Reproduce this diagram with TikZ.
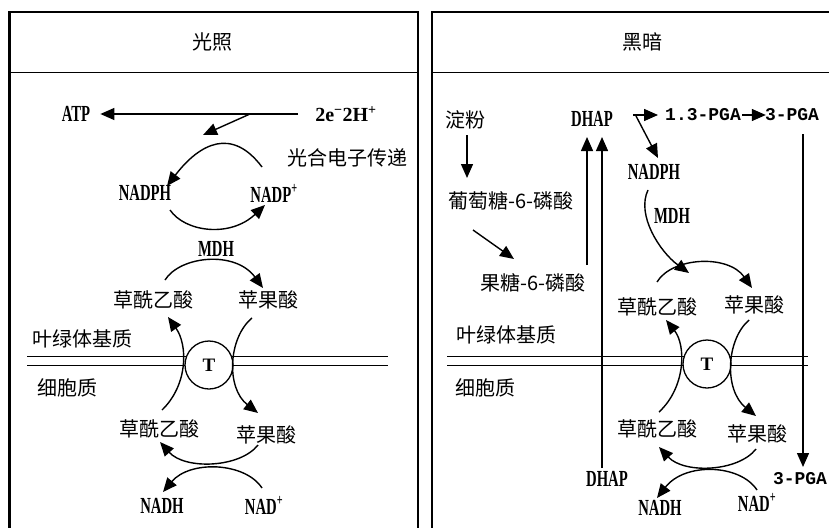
\documentclass[tikz,border=0pt]{standalone}
\usepackage{fontspec}
\setmainfont{Liberation Serif}
\newfontfamily\cjk{Noto Sans CJK SC}
\newfontfamily\lat[FakeStretch=0.64]{Liberation Serif}
\newfontfamily\monof{Liberation Mono}
\usetikzlibrary{arrows.meta}
\begin{document}
\begin{tikzpicture}[x=1pt,y=-1pt,
  arr/.style={-{Triangle[length=14pt,width=12pt]}, line width=1.4pt},
  cn/.style={font=\cjk\fontsize{20}{20}\selectfont, inner sep=0pt},
  ln/.style={font=\lat\bfseries\fontsize{23}{23}\selectfont, inner sep=0pt},
  sn/.style={font=\bfseries\fontsize{20}{20}\selectfont, inner sep=0pt},
  mn/.style={font=\monof\bfseries\fontsize{18}{18}\selectfont, inner sep=0pt},
  tcirc/.style={circle, draw, fill=white, line width=1.3pt, minimum size=48pt, inner sep=0pt, font=\bfseries\fontsize{19}{19}\selectfont},
  frame/.style={line width=2.5pt},
  hline/.style={line width=1.5pt},
  memb/.style={line width=1pt}
]
\useasboundingbox (0,0) rectangle (829,527);
% frames
\draw[frame] (9.5,530) -- (9.5,12) -- (418,12) -- (418,530);
\draw[frame] (432,530) -- (432,12) -- (835,12);
\draw[hline] (9.5,72.5) -- (418,72.5);
\draw[hline] (432,72.5) -- (829,72.5);

% ================= LEFT PANEL =================
\node[cn] (hd1) at (212,42) {光照};
\node[ln] (atp) at (76,114) {ATP};
\node[sn] (e2h) at (346,114) {2e\textsuperscript{−}2H\textsuperscript{+}};
\node[cn,anchor=west] (etr) at (287,158) {光合电子传递};
\node[ln] (nadph1) at (145,193) {NADPH};
\node[ln] (nadp1) at (274,193) {NADP\textsuperscript{+}};
\node[ln] (mdh1) at (216,249) {MDH};
\node[cn] (oaa1) at (153,300) {草酰乙酸};
\node[cn] (mal1) at (268,300) {苹果酸};
\node[cn] (str1) at (82,339) {叶绿体基质};
\node[cn] (cyt1) at (67,388) {细胞质};
\node[cn] (oaa1b) at (159,429) {草酰乙酸};
\node[cn] (mal1b) at (266,435) {苹果酸};
\node[ln] (nadh1) at (162,506) {NADH};
\node[ln] (nad1) at (264,505) {NAD\textsuperscript{+}};

\coordinate (m1a) at (27,356); \coordinate (m1b) at (388,356);
\coordinate (m1c) at (27,365); \coordinate (m1d) at (388,365);
\draw[memb] (m1a) -- (m1b);
\draw[memb] (m1c) -- (m1d);
\node[tcirc] (t1) at (209,365) {T};

\coordinate (a1s) at (250,114); \coordinate (a1e) at (203,135);
\draw[arr] ([xshift=-17pt]e2h.west) -- ([xshift=10pt]atp.east);
\draw[arr] (a1s) -- (a1e);
\coordinate (c1s) at (262,167); \coordinate (c1e) at (167,186);
\draw[arr] (c1s) .. controls (232,127) and (200,143) .. (c1e);
\coordinate (c2s) at (170,210); \coordinate (c2e) at (265,205);
\draw[arr] (c2s) .. controls (185,232) and (230,238) .. (c2e);
\coordinate (c3s) at (165,280); \coordinate (c3e) at (263,288);
\draw[arr] (c3s) .. controls (180,256) and (235,250) .. (c3e);
\coordinate (c4s) at (162,410); \coordinate (c4e) at (168,317);
\draw[arr] (c4s) .. controls (188,385) and (188,345) .. (c4e);
\coordinate (c5s) at (252,318); \coordinate (c5e) at (258,413);
\draw[arr] (c5s) .. controls (228,338) and (226,388) .. (c5e);
\coordinate (c6s) at (258,445); \coordinate (c6e) at (160,442);
\draw[arr] (c6s) .. controls (240,468) and (185,470) .. (c6e);
\coordinate (c7s) at (262,488); \coordinate (c7e) at (163,492);
\draw[arr] (c7s) .. controls (245,462) and (190,460) .. (c7e);

% ================= RIGHT PANEL =================
\node[cn] (hd2) at (642,42) {黑暗};
\node[cn] (starch) at (465,120) {淀粉};
\node[ln] (dhap1) at (592,119) {DHAP};
\node[mn] (pga13) at (703,115) {1.3-PGA};
\node[mn] (pga3a) at (792,115) {3-PGA};
\node[cn] (g6p) at (511,201) {葡萄糖-6-磷酸};
\node[cn] (f6p) at (533,283) {果糖-6-磷酸};
\node[ln] (nadph2) at (654,172) {NADPH};
\node[ln] (mdh2) at (672,216) {MDH};
\node[cn] (oaa2) at (657,307) {草酰乙酸};
\node[cn] (mal2) at (754,305) {苹果酸};
\node[cn] (str2) at (506,335) {叶绿体基质};
\node[cn] (cyt2) at (485,388) {细胞质};
\node[cn] (oaa2b) at (657,429) {草酰乙酸};
\node[cn] (mal2b) at (757,434) {苹果酸};
\node[ln] (dhap2) at (607,479) {DHAP};
\node[mn] (pga3b) at (800,479) {3-PGA};
\node[ln] (nadh2) at (660,508) {NADH};
\node[ln] (nad2) at (757,502) {NAD\textsuperscript{+}};

\coordinate (m2a) at (447,356); \coordinate (m2b) at (808,356);
\coordinate (m2c) at (447,365); \coordinate (m2d) at (808,365);
\draw[memb] (m2a) -- (m2b);
\draw[memb] (m2c) -- (m2d);

% vertical transport lines
\coordinate (v1s) at (587,265); \coordinate (v1e) at (587,137);
\coordinate (v2s) at (602,468); \coordinate (v2e) at (602,137);
\draw[arr] (v1s) -- (v1e);
\draw[arr] (v2s) -- (v2e);
\coordinate (v3s) at (803,134); \coordinate (v3e) at (803,467);
\draw[arr] (v3s) -- (v3e);

\node[tcirc] (t2) at (707,364) {T};

\coordinate (s1s) at (467,135); \coordinate (s1e) at (467,178);
\draw[arr] (s1s) -- (s1e);
\coordinate (s2s) at (473,230); \coordinate (s2e) at (514,259);
\draw[arr] (s2s) -- (s2e);

\coordinate (b0) at (633,115); \coordinate (b1) at (658,115);
\coordinate (b2) at (636,116); \coordinate (b3) at (658,158);
\draw[arr] (b0) -- (b1);
\draw[arr] (b2) -- (b3);
\draw[arr] ([xshift=1pt]pga13.east) -- ([xshift=1pt]pga3a.west);

\coordinate (d1s) at (648,190); \coordinate (d1e) at (689,273);
\draw[arr] (d1s) .. controls (636,215) and (660,252) .. (d1e);
\coordinate (d2s) at (657,282); \coordinate (d2e) at (752,288);
\draw[arr] (d2s) .. controls (672,257) and (728,254) .. (d2e);
\coordinate (d3s) at (659,412); \coordinate (d3e) at (666,320);
\draw[arr] (d3s) .. controls (686,387) and (686,345) .. (d3e);
\coordinate (d4s) at (749,320); \coordinate (d4e) at (756,416);
\draw[arr] (d4s) .. controls (726,340) and (724,390) .. (d4e);
\coordinate (d5s) at (756,449); \coordinate (d5e) at (659,447);
\draw[arr] (d5s) .. controls (738,472) and (684,474) .. (d5e);
\coordinate (d6s) at (757,490); \coordinate (d6e) at (657,498);
\draw[arr] (d6s) .. controls (740,464) and (685,462) .. (d6e);
\end{tikzpicture}
\end{document}
